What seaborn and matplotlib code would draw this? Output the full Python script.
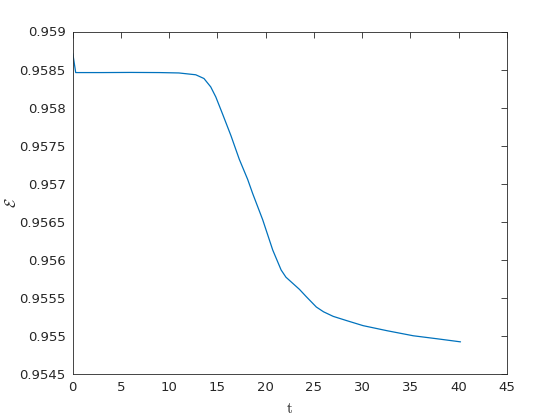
import numpy as np
import pandas as pd
import seaborn as sns
import matplotlib
matplotlib.use("Agg")
import matplotlib.pyplot as plt
from matplotlib.ticker import FuncFormatter

# curve
t = [0, 0.3, 3, 6, 9, 11, 12.75, 13.6, 14.3, 14.83, 15.52, 16.4, 17.26,
     18.13, 18.65, 19.69, 20.73, 21.6, 22.1, 23.5, 24.2, 25.25, 26.0, 27.0,
     28.4, 30.1, 32.6, 35.3, 37.8, 40.2]
energy = [0.95871, 0.95846, 0.95846, 0.958462, 0.95846, 0.958455, 0.958431,
          0.958382, 0.958272, 0.958139, 0.957918, 0.95763, 0.957321, 0.957056,
          0.95687, 0.956525, 0.956127, 0.955865, 0.95577, 0.95561, 0.955515,
          0.955378, 0.955315, 0.955255, 0.955199, 0.955133, 0.955066, 0.955,
          0.95496, 0.95492]

xticks = [0, 5, 10, 15, 20, 25, 30, 35, 40, 45]
yticks = [0.9545, 0.955, 0.9555, 0.956, 0.9565, 0.957, 0.9575, 0.958, 0.9585, 0.959]

sns.set_style("white")
plt.rcParams['font.family'] = ['DejaVu Sans']
plt.rcParams['mathtext.fontset'] = 'cm'

df = pd.DataFrame({'t': t, 'E': energy})

fig = plt.figure(figsize=(5.6, 4.2), dpi=100)
ax = fig.add_axes([0.13, 0.11, 0.775, 0.815])
sns.lineplot(data=df, x='t', y='E', ax=ax, color='#0072BD', linewidth=0.9)

ax.set_xlim(0, 45)
ax.set_ylim(0.9545, 0.959)
ax.set_xticks(xticks)
ax.set_yticks(yticks)
ax.yaxis.set_major_formatter(FuncFormatter(lambda v, p: ('%.4f' % v).rstrip('0')))
ax.tick_params(direction='in', length=4, width=0.6, top=True, right=True,
               labelsize=9.5, colors='#262626', pad=5)
for s in ax.spines.values():
    s.set_color('#262626')
    s.set_linewidth(0.6)
ax.set_xlabel(r'$\mathrm{t}$', fontsize=11, color='#262626')
ax.set_ylabel(r'$\mathcal{E}$', fontsize=11, color='#262626')
ax.yaxis.set_label_coords(-0.125, 0.5)
ax.xaxis.set_label_coords(0.5, -0.08)

fig.savefig('out.png', dpi=100)
